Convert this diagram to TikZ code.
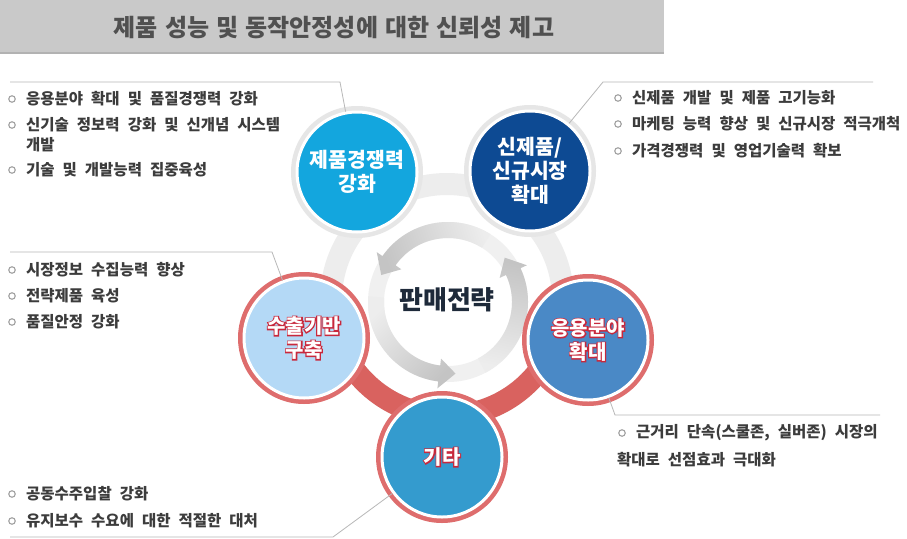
\documentclass[tikz,border=0pt]{standalone}
\usepackage{fontspec}
\setmainfont{Noto Sans CJK KR}
\newfontfamily\krlist{Noto Sans CJK KR}
\newfontfamily\krtitle[WordSpace=1.3]{Noto Sans CJK KR}
\newfontfamily\krfat[FakeBold=11]{Noto Sans CJK KR}
\newcommand\listfont{\krlist\bfseries\fontsize{15.5}{18}\selectfont\spaceskip 8pt plus 0pt\relax}
\definecolor{titlebg}{HTML}{C9C9C9}
\definecolor{titleedge}{HTML}{B2B2B2}
\definecolor{titletxt}{HTML}{505050}
\definecolor{txt}{HTML}{3C3C3C}
\definecolor{bulc}{HTML}{A0A0A0}
\definecolor{leadc}{HTML}{B8B8B8}
\definecolor{ringgray}{HTML}{EDEDED}
\definecolor{ringred}{HTML}{D9625F}
\definecolor{ringlg}{HTML}{E6E6E6}
\definecolor{ringr}{HTML}{DE6D6D}
\definecolor{arrowbase}{HTML}{F0F0F0}
\definecolor{arrowlight}{HTML}{EDEDED}
\definecolor{arrowdark}{HTML}{C4C4C4}
\definecolor{cprod}{HTML}{13A6DE}
\definecolor{cnew}{HTML}{0D4A93}
\definecolor{capp}{HTML}{4A89C6}
\definecolor{cexp}{HTML}{B4D9F6}
\definecolor{cetc}{HTML}{349BCE}
\definecolor{contred}{HTML}{C8283C}
\definecolor{centertxt}{HTML}{1E2A3A}
\newcommand\outl[1]{{\color{contred}\rlap{\krfat\bfseries #1}}{\color{white}\bfseries #1}}
\newcommand\cyclearrow[3]{%
  \shade[bottom color=arrowlight, top color=arrowdark, shading angle=#3]
   ([shift={(#1:80)}]448,-302) arc[start angle=#1, end angle=#2-13, radius=80]
   -- ([shift={(#2-13:87)}]448,-302) -- ([shift={(#2:72)}]448,-302)
   -- ([shift={(#2-13:57)}]448,-302) -- ([shift={(#2-13:64)}]448,-302)
   arc[start angle=#2-13, end angle=#1, radius=64] -- cycle;}
\begin{document}
\begin{tikzpicture}[x=1pt,y=1pt,
  lst/.style={anchor=west, inner sep=0pt, text=txt, font=\listfont},
  bul/.style={circle, draw=bulc, line width=1.1pt, minimum size=6.5pt, inner sep=0pt},
  bub/.style={circle, inner sep=0pt, minimum size=120pt, draw=white, line width=3pt, align=center},
  btxt/.style={font=\bfseries\fontsize{20.5}{24}\selectfont, text=white},
  rtxt/.style={font=\fontsize{20}{24}\selectfont},
  lead/.style={draw=leadc, line width=0.8pt}
]
\useasboundingbox (0,0) rectangle (907,-538);
\fill[white] (0,0) rectangle (907,-538);

% title bar
\fill[titlebg] (0,0) rectangle (664,-53);
\draw[titleedge, line width=1.2pt] (0,-53) -- (664,-53);
\node[font=\krtitle\bfseries\fontsize{24}{27}\selectfont, text=titletxt] (title) at (334,-28) {제품 성능 및 동작안정성에 대한 신뢰성 제고};

% big ring
\draw[ringgray, line width=22pt] (447,-300) circle (116);
\draw[ringred, line width=22pt] ([shift={(195:116)}]447,-300) arc[start angle=195, end angle=345, radius=116];

% inner cycle
\draw[arrowbase, line width=16pt] (448,-302) circle (72);
\cyclearrow{58}{158}{108}
\cyclearrow{176}{276}{226}
\cyclearrow{-62}{38}{-12}
\node[font=\bfseries\fontsize{26}{29}\selectfont, text=centertxt] (center) at (447,-300) {판매전략};

% bubbles
\fill[ringlg] (357,-172) circle (66);
\node[bub, fill=cprod, btxt] (prod) at (357,-172) {제품경쟁력\\강화};
\fill[ringlg] (530,-171) circle (66);
\node[bub, fill=cnew, btxt] (newp) at (530,-171) {신제품/\\신규시장\\확대};
\fill[ringr] (588,-340) circle (66);
\node[bub, fill=capp, rtxt] (app) at (588,-340) {\outl{응용분야}\\\outl{확대}};
\fill[ringr] (304,-338) circle (66);
\node[bub, fill=cexp, rtxt] (exp) at (304,-338) {\outl{수출기반}\\\outl{구축}};
\fill[ringr] (442,-457) circle (66);
\node[bub, fill=cetc, rtxt] (etc) at (442,-457) {\outl{기타}};

% leader lines
\coordinate (tlA) at (10,-82); \coordinate (tlB) at (340,-82);
\draw[lead] (tlA) -- (tlB) -- ([shift={(76:66)}]prod);
\coordinate (trA) at (873,-82); \coordinate (trB) at (603,-82);
\draw[lead] (trA) -- (trB) -- ([shift={(64:66)}]newp);
\coordinate (mlA) at (10,-252); \coordinate (mlB) at (272,-252);
\draw[lead] (mlA) -- (mlB) -- ([shift={(100:66)}]exp);
\coordinate (brA) at (880,-415); \coordinate (brB) at (615,-415);
\draw[lead] ([shift={(272:66)}]app) -- (brB) -- (brA);
\coordinate (blA) at (10,-537); \coordinate (blB) at (333,-537);
\draw[lead] (blA) -- (blB) -- ([shift={(211:66)}]etc);

% top-left list
\node[bul] (b1) at (12,-99) {}; \node[lst] (t1) at (26,-99) {응용분야 확대 및 품질경쟁력 강화};
\node[bul] (b2) at (12,-125) {}; \node[lst] (t2) at (26,-125) {신기술 정보력 강화 및 신개념 시스템};
\node[lst] (t2b) at (26,-145) {개발};
\node[bul] (b3) at (12,-170) {}; \node[lst] (t3) at (26,-170) {기술 및 개발능력 집중육성};

% top-right list
\node[bul] (b4) at (618,-98) {}; \node[lst] (t4) at (632,-98) {신제품 개발 및 제품 고기능화};
\node[bul] (b5) at (618,-124) {}; \node[lst] (t5) at (632,-124) {마케팅 능력 향상 및 신규시장 적극개척};
\node[bul] (b6) at (618,-151) {}; \node[lst] (t6) at (632,-151) {가격경쟁력 및 영업기술력 확보};

% middle-left list
\node[bul] (b7) at (12,-270) {}; \node[lst] (t7) at (26,-270) {시장정보 수집능력 향상};
\node[bul] (b8) at (12,-296) {}; \node[lst] (t8) at (26,-296) {전략제품 육성};
\node[bul] (b9) at (12,-322) {}; \node[lst] (t9) at (26,-322) {품질안정 강화};

% bottom-right
\node[bul] (b10) at (622,-433) {}; \node[lst] (t10) at (636,-433) {근거리 단속(스쿨존, 실버존) 시장의};
\node[lst] (t10b) at (617,-460) {확대로 선점효과 극대화};

% bottom-left
\node[bul] (b11) at (12,-494) {}; \node[lst] (t11) at (26,-494) {공동수주입찰 강화};
\node[bul] (b12) at (12,-521) {}; \node[lst] (t12) at (26,-521) {유지보수 수요에 대한 적절한 대처};
\end{tikzpicture}
\end{document}
